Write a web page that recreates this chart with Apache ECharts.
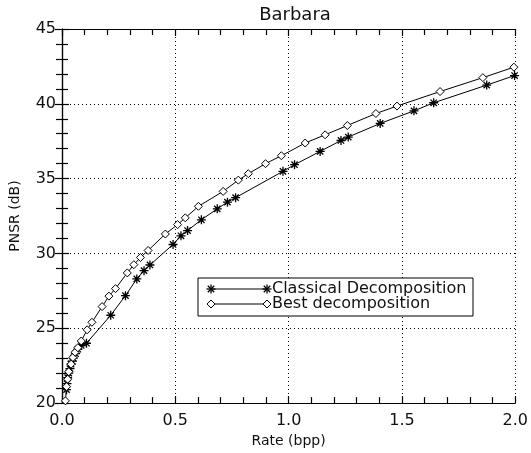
<!DOCTYPE html>
<html>
<head>
<meta charset="UTF-8">
<title>Barbara</title>
<script src="https://cdn.jsdelivr.net/npm/echarts@6/dist/echarts.min.js"></script>
<style>
  html, body { margin: 0; padding: 0; background: #fff; }
  #main { width: 531px; height: 453px; }
</style>
</head>
<body>
<div id="main"></div>
<script>
// rate (bpp) / PSNR (dB)
var bestRate = [0.005, 0.015, 0.02, 0.025, 0.03, 0.04, 0.048, 0.058, 0.07, 0.085, 0.111, 0.132, 0.177, 0.207, 0.236, 0.288, 0.317, 0.346, 0.38, 0.456, 0.51, 0.544, 0.602, 0.711, 0.778, 0.822, 0.898, 0.968, 1.073, 1.161, 1.259, 1.385, 1.478, 1.668, 1.857, 1.994];
var bestPsnr = [19.9, 20.15, 21.1, 21.6, 22.1, 22.6, 23.05, 23.4, 23.7, 24.15, 24.9, 25.4, 26.45, 27.15, 27.65, 28.7, 29.25, 29.73, 30.2, 31.3, 31.93, 32.38, 33.15, 34.15, 34.9, 35.33, 36.0, 36.53, 37.38, 37.93, 38.55, 39.35, 39.85, 40.82, 41.75, 42.45];

var classRate = [0.02, 0.022, 0.025, 0.03, 0.035, 0.04, 0.045, 0.05, 0.06, 0.07, 0.085, 0.108, 0.215, 0.28, 0.33, 0.362, 0.388, 0.49, 0.525, 0.554, 0.615, 0.685, 0.73, 0.766, 0.975, 1.026, 1.139, 1.231, 1.263, 1.404, 1.553, 1.64, 1.874, 1.997];
var classPsnr = [20.9, 21.3, 21.7, 22.0, 22.3, 22.6, 22.8, 23.0, 23.3, 23.6, 23.85, 24.0, 25.87, 27.18, 28.3, 28.85, 29.23, 30.6, 31.18, 31.53, 32.25, 32.98, 33.43, 33.73, 35.49, 35.93, 36.82, 37.55, 37.78, 38.69, 39.53, 40.07, 41.25, 41.89];

var seriesNames = ['Classical Decomposition', 'Best decomposition'];

function pairs(xs, ys) {
  return xs.map(function (x, i) { return [x, ys[i]]; });
}

var STAR = 'path://M0,5L10,5M5,0L5,10M1.5,1.5L8.5,8.5M1.5,8.5L8.5,1.5';
var FONT = 'DejaVu Sans';
var INK = '#111';

// asterisk for the legend box, made of four short strokes
function legendStar(cx, cy) {
  var r = 4.5, d = 3.2;
  var segs = [[-r, 0, r, 0], [0, -r, 0, r], [-d, -d, d, d], [-d, d, d, -d]];
  return segs.map(function (s) {
    return { type: 'line', z: 12,
      shape: { x1: cx + s[0], y1: cy + s[1], x2: cx + s[2], y2: cy + s[3] },
      style: { stroke: '#000', lineWidth: 1.3 } };
  });
}
function legendDiamond(cx, cy) {
  return { type: 'polygon', z: 12,
    shape: { points: [[cx, cy - 4], [cx + 4, cy], [cx, cy + 4], [cx - 4, cy]] },
    style: { fill: '#fff', stroke: '#000', lineWidth: 1 } };
}

// fresh axis object each time (frame on all four sides, ticks inside)
function frameAxis(extra) {
  var a = {
    type: 'value',
    axisLine: { show: true, lineStyle: { color: '#000', width: 1.2 } },
    axisTick: { show: true, inside: true, length: 7, lineStyle: { color: '#000', width: 1.2 } },
    minorTick: { show: true, splitNumber: 5, length: 6, lineStyle: { color: '#000', width: 1.2 } }
  };
  for (var k in extra) a[k] = extra[k];
  return a;
}

var legendEls = [
  { type: 'rect', shape: { x: 198, y: 278, width: 275, height: 38 },
    style: { fill: '#fff', stroke: '#000', lineWidth: 1 }, z: 10 },
  { type: 'line', shape: { x1: 211, y1: 289, x2: 267, y2: 289 }, style: { stroke: '#000', lineWidth: 1 }, z: 11 },
  { type: 'line', shape: { x1: 211, y1: 304, x2: 267, y2: 304 }, style: { stroke: '#000', lineWidth: 1 }, z: 11 },
  legendDiamond(211, 304), legendDiamond(267, 304),
  { type: 'text', x: 272, y: 289, z: 12,
    style: { text: seriesNames[0], font: '16px "DejaVu Sans"', fill: INK, textVerticalAlign: 'middle' } },
  { type: 'text', x: 272, y: 304, z: 12,
    style: { text: seriesNames[1], font: '16px "DejaVu Sans"', fill: INK, textVerticalAlign: 'middle' } }
].concat(legendStar(211, 289), legendStar(267, 289));

var chart = echarts.init(document.getElementById('main'));
chart.setOption({
  animation: false,
  backgroundColor: '#fff',
  title: {
    text: 'Barbara', left: 290, top: 1, textAlign: 'center',
    textStyle: { fontFamily: FONT, fontSize: 18, fontWeight: 'normal', color: INK }
  },
  grid: { left: 62, right: 13, top: 29, bottom: 49 },
  xAxis: [
    frameAxis({
      min: 0, max: 2, interval: 0.5,
      name: 'Rate (bpp)', nameLocation: 'middle', nameGap: 28,
      nameTextStyle: { fontFamily: FONT, fontSize: 14, color: INK },
      axisLabel: { fontFamily: FONT, fontSize: 16, color: INK, margin: 10,
        formatter: function (v) { return v.toFixed(1); } },
      splitLine: { show: true, lineStyle: { color: '#000', type: [1, 3], width: 1 } }
    }),
    frameAxis({
      position: 'top', min: 0, max: 2, interval: 0.5,
      axisLabel: { show: false }, splitLine: { show: false }
    })
  ],
  yAxis: [
    frameAxis({
      min: 20, max: 45, interval: 5,
      name: 'PNSR (dB)', nameLocation: 'middle', nameGap: 40,
      nameTextStyle: { fontFamily: FONT, fontSize: 14, color: INK },
      axisLabel: { fontFamily: FONT, fontSize: 16, color: INK, margin: 6 },
      splitLine: { show: true, lineStyle: { color: '#000', type: [1, 3], width: 1 } }
    }),
    frameAxis({
      position: 'right', min: 20, max: 45, interval: 5,
      axisLabel: { show: false }, splitLine: { show: false }
    })
  ],
  series: [
    {
      name: seriesNames[0], type: 'line', data: pairs(classRate, classPsnr),
      symbol: STAR, symbolSize: 9, showAllSymbol: true,
      lineStyle: { color: '#000', width: 1 },
      itemStyle: { color: '#000', borderColor: '#000', borderWidth: 1.3 },
      z: 3
    },
    {
      name: seriesNames[1], type: 'line', data: pairs(bestRate, bestPsnr),
      symbol: 'diamond', symbolSize: 8, showAllSymbol: true,
      lineStyle: { color: '#000', width: 1 },
      itemStyle: { color: '#fff', borderColor: '#000', borderWidth: 1 },
      z: 4
    }
  ],
  graphic: legendEls
});
</script>
</body>
</html>
